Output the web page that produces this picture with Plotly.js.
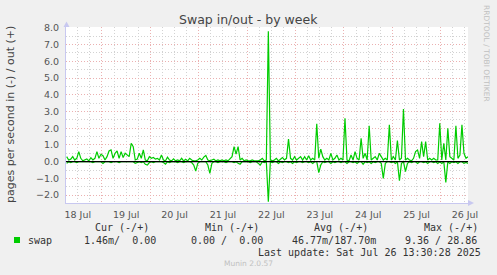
<!DOCTYPE html>
<html><head><meta charset="utf-8">
<script src="https://cdn.plot.ly/plotly-3.0.1.min.js"></script>
<style>html,body{margin:0;padding:0;background:#f0f0f0;}#chart{width:497px;height:275px;}</style>
</head><body><div id="chart"></div>
<script>
// ---- data ----
const chartTitle = 'Swap in/out - by week';
const yTitle = 'pages per second in (-) / out (+)';
const seriesName = 'swap';
const sampleStart = Date.UTC(2025, 6, 18, 6, 30); // first sample, hourly samples
const sampleStepHours = 1;
// swap out (+), pages/s, hourly
const swapOut = [
 0.3,0.1,0.15,0.3,0.1,0.2,0.6,0.2,0.05,0.1,0.16,0.05,0.24,0.1,0.2,0.6,0.2,0.44,0.36,0.1,
 0.3,0.64,0.7,0.2,0.5,0.64,0.2,0.6,0.25,0.5,0.4,0.3,1.1,0.9,0.1,0.15,0.5,0.2,0.7,0.1,
 0.05,0.3,0.2,0.25,0.15,0.2,0.1,0.4,0.1,0.05,0.27,0.1,0.05,0.17,0.05,0.1,0.05,0.2,0.05,0.15,
 0.05,0.2,0.1,0.05,0.05,0.1,0.2,0.1,0.27,0.37,0.1,0.05,0.1,0.15,0.05,0.1,0.05,0.1,0.05,0.1,
 0.05,0.15,0.3,0.9,0.45,0.9,0.1,0.2,0.05,0.1,0.05,0.05,0.1,0.05,0.05,0.05,0.1,0.2,0.05,0.1,
 7.8,0.1,0.05,0.1,0.2,0.05,0.15,0.25,0.1,0.2,1.35,0.2,0.1,0.3,0.1,0.2,0.3,0.1,0.3,0.1,
 0.35,0.1,0.2,0.1,2.27,0.2,0.75,0.3,0.1,0.2,0.1,0.5,0.1,0.2,0.4,0.1,0.2,0.1,2.6,0.1,
 0.05,0.4,0.1,0.6,0.2,0.1,1.4,0.2,0.5,0.1,2.15,0.1,0.2,0.3,0.1,0.5,0.3,0.1,0.2,0.1,
 2.2,0.1,0.3,0.1,1.26,0.1,0.2,3.15,0.1,0.2,0.1,0.05,0.2,0.6,0.7,0.2,1.2,0.3,1.2,0.1,
 0.2,0.1,0.2,0.1,0.1,2.3,0.1,1.1,0.1,2.0,0.3,0.2,0.1,2.15,0.2,0.4,2.2,0.5,0.2,0.3
];
// swap in (-), pages/s magnitude, hourly
const swapIn = [
 0.1,0,0.05,0,0,0.05,0,0,0,0,0,0,0,0.05,0,0,0,0,0.1,0,
 0,0,0.05,0,0,0,0.05,0,0,0,0,0,0,0,0.1,0.05,0,0.05,0,0.16,
 0.2,0.05,0,0.05,0,0,0,0,0.05,0.15,0,0.05,0,0,0,0.05,0,0,0.05,0,
 0,0,0.05,0.2,0.56,0.1,0,0,0,0,0.2,0.7,0.1,0,0,0.05,0,0,0,0.05,
 0,0,0,0.05,0,0.1,0.15,0,0,0,0,0.05,0,0,0,0.1,0.2,0,0.05,0,
 2.4,0,0.05,0,0,0.1,0,0.05,0,0,0.05,0,0.1,0,0.05,0,0,0.05,0,0,
 0.05,0,0.1,0,0,0.66,0.2,0,0.05,0,0,0.1,0,0.05,0,0,0.05,0,0,0.1,
 0,0,0.05,0,0.1,0,0,0.15,0,0.05,0,0.1,0,0.05,0,0,0.1,1.0,0.1,0,
 0,0.05,0,0.1,0,1.14,0.1,0,0.6,0.1,0,0.05,0,0,0.1,0,0,0.05,0,0.1,
 0,0,0.05,0,0.1,0,0.1,0,1.24,0,0.1,0,0.05,0,0.1,0,0,0.1,0.05,0.1
];
const xRange = ['2025-07-18 06:10', '2025-07-26 13:30'];
const yRange = [-2.47, 8.05];
const legendHeaders = ['Cur (-/+)', 'Min (-/+)', 'Avg (-/+)', 'Max (-/+)'];
const legendValues = ['1.46m/  0.00', '0.00 /  0.00', '46.77m/187.70m', '9.36 / 28.86'];
const lastUpdate = 'Last update: Sat Jul 26 13:30:28 2025';
const creditText = 'RRDTOOL / TOBI OETIKER';
const versionText = 'Munin 2.0.57';

// ---- layout geometry ----
const W = 497, H = 275, L = 66, R = 468, T = 27, B = 203;
const px = x => (x - L) / (R - L);
const py = y => (B - y) / (B - T);
const nb = s => s.replace(/ /g, '\u00a0');

const times = swapOut.map((_, i) => sampleStart + i * sampleStepHours * 3600000);
const green = '#00cc00';
const axisColor = '#c8c8f0';
const majorGrid = '#ebb0b0';
const minorGrid = '#d2d2d2';
const mono = 'DejaVu Sans Mono';

const traces = [
  {x: times, y: swapOut, type: 'scatter', mode: 'lines', line: {color: green, width: 1.2}, name: seriesName, hoverinfo: 'skip'},
  {x: times, y: swapIn.map(v => -v), type: 'scatter', mode: 'lines', line: {color: green, width: 1.2}, name: seriesName, hoverinfo: 'skip'}
];

const ann = [];
ann.push({text: chartTitle, xref: 'paper', yref: 'paper', x: px(248.5), y: py(19.5), xanchor: 'center', yanchor: 'middle', showarrow: false, font: {family: 'DejaVu Sans', size: 12.5, color: '#444'}});
ann.push({text: yTitle, xref: 'paper', yref: 'paper', x: px(10.5), y: py(114.5), xanchor: 'center', yanchor: 'middle', textangle: -90, showarrow: false, font: {family: 'DejaVu Sans', size: 11, color: '#444'}});
ann.push({text: creditText, xref: 'paper', yref: 'paper', x: px(487), y: py(53), xanchor: 'center', yanchor: 'middle', textangle: 90, showarrow: false, font: {family: 'DejaVu Sans', size: 7.5, color: '#c0c0c0'}});
const headerLeft = [94.3, 204, 313, 422.7];
const valueLeft = [83.3, 190, 291, 404];
legendHeaders.forEach((h, i) => ann.push({text: nb(h), xref: 'paper', yref: 'paper', x: px(headerLeft[i] - 1), y: py(227.5), xanchor: 'left', yanchor: 'middle', showarrow: false, font: {family: mono, size: 10, color: '#333'}}));
legendValues.forEach((v, i) => ann.push({text: nb(v), xref: 'paper', yref: 'paper', x: px(valueLeft[i] - 1), y: py(240), xanchor: 'left', yanchor: 'middle', showarrow: false, font: {family: mono, size: 10, color: '#333'}}));
ann.push({text: seriesName, xref: 'paper', yref: 'paper', x: px(25.7), y: py(240), xanchor: 'left', yanchor: 'middle', showarrow: false, font: {family: mono, size: 10, color: '#333'}});
ann.push({text: nb(lastUpdate), xref: 'paper', yref: 'paper', x: px(483.3), y: py(252), xanchor: 'right', yanchor: 'middle', showarrow: false, font: {family: mono, size: 10, color: '#333'}});
ann.push({text: versionText, xref: 'paper', yref: 'paper', x: px(248), y: py(263.5), xanchor: 'center', yanchor: 'middle', showarrow: false, font: {family: 'DejaVu Sans', size: 7.5, color: '#c0c0c0'}});

const shapes = [
  {type: 'line', xref: 'paper', yref: 'y', x0: 0, x1: 1, y0: 0, y1: 0, line: {color: '#000', width: 1.3}, layer: 'above'},
  {type: 'rect', xref: 'paper', yref: 'paper', x0: px(14), x1: px(20), y0: py(243), y1: py(237), fillcolor: green, line: {width: 0}},
  {type: 'path', xref: 'paper', yref: 'paper', path: `M ${px(63.5)} ${py(27)} L ${px(69.5)} ${py(27)} L ${px(66.5)} ${py(21.5)} Z`, fillcolor: axisColor, line: {width: 0}},
  {type: 'path', xref: 'paper', yref: 'paper', path: `M ${px(468)} ${py(200)} L ${px(468)} ${py(206)} L ${px(474)} ${py(203)} Z`, fillcolor: axisColor, line: {width: 0}}
];

const layout = {
  width: W, height: H,
  margin: {l: L, r: W - R, t: T, b: H - B, pad: 0},
  paper_bgcolor: '#f0f0f0', plot_bgcolor: '#ffffff',
  font: {family: 'DejaVu Sans', size: 9.5, color: '#555'},
  showlegend: false,
  xaxis: {
    type: 'date', range: xRange, tickmode: 'linear', tick0: '2025-07-18', dtick: 86400000,
    ticklabelmode: 'period', tickformat: '%d %b', ticks: '', ticklabelstandoff: 3,
    showgrid: true, gridcolor: majorGrid, griddash: '1px,2px', gridwidth: 1,
    minor: {tick0: '2025-07-18', dtick: 21600000, showgrid: true, gridcolor: minorGrid, griddash: '1px,2px', gridwidth: 1},
    showline: true, linecolor: axisColor, linewidth: 1, zeroline: false, fixedrange: true
  },
  yaxis: {
    range: yRange, tickmode: 'linear', tick0: 0, dtick: 1, tickformat: '.1f', ticks: '', ticklabelstandoff: 4,
    showgrid: true, gridcolor: majorGrid, griddash: '1px,2px', gridwidth: 1,
    minor: {tick0: 0, dtick: 0.5, showgrid: true, gridcolor: minorGrid, griddash: '1px,2px', gridwidth: 1},
    showline: true, linecolor: axisColor, linewidth: 1, zeroline: false, fixedrange: true
  },
  annotations: ann,
  shapes: shapes
};

Plotly.newPlot('chart', traces, layout, {staticPlot: true, displayModeBar: false});
</script>
</body></html>
